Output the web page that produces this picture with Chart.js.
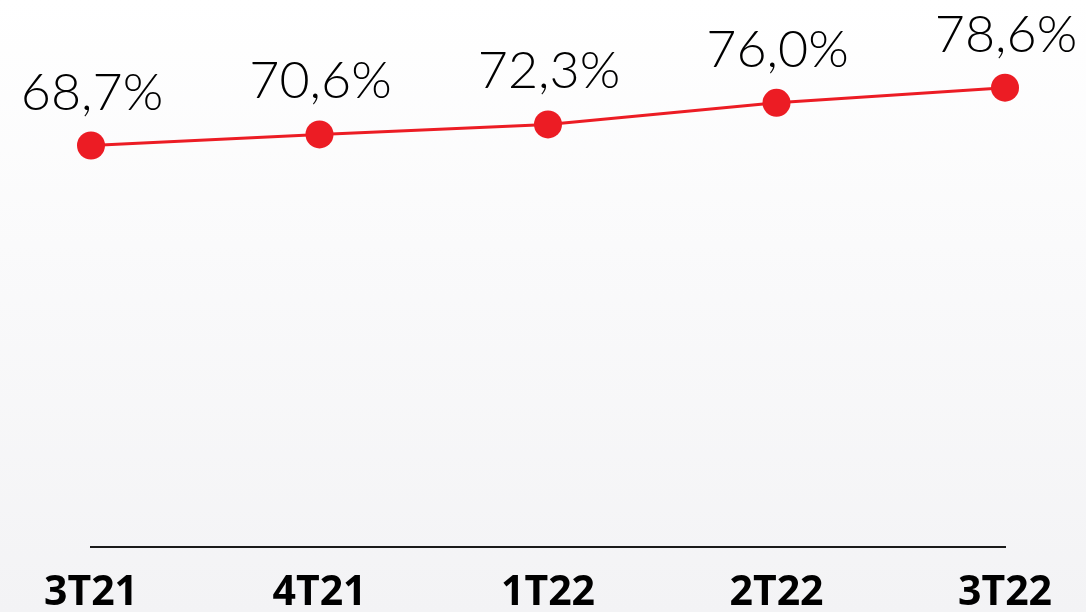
<!DOCTYPE html>
<html>
<head>
<meta charset="utf-8">
<script src="https://cdn.jsdelivr.net/npm/chart.js@4"></script>
<style>
  html, body { margin: 0; padding: 0; }
  body { width: 1086px; height: 612px; overflow: hidden;
         background: linear-gradient(to bottom, #ffffff 0%, #fafafb 40%, #f3f3f5 100%); }
  #wrap { position: relative; width: 1086px; height: 612px; }
</style>
</head>
<body>
<div id="wrap"><canvas id="lineChart"></canvas></div>
<script>
const quarters = ["3T21", "4T21", "1T22", "2T22", "3T22"];
const shareValues = [68.7, 70.6, 72.3, 76.0, 78.6];
const shareLabels = ["68,7%", "70,6%", "72,3%", "76,0%", "78,6%"];

// draws the percentage above each point
const valueLabels = {
    id: "valueLabels",
    afterDatasetsDraw(chart) {
        const ctx = chart.ctx;
        const points = chart.getDatasetMeta(0).data;
        ctx.save();
        ctx.font = "300 52px Lato";
        ctx.fillStyle = "#000";
        ctx.textAlign = "center";
        ctx.textBaseline = "alphabetic";
        points.forEach((pt, i) => {
            ctx.fillText(shareLabels[i], pt.x + 1, pt.y - 36);
        });
        ctx.restore();
    }
};

const ctx = document.getElementById("lineChart").getContext("2d");
new Chart(ctx, {
    type: "line",
    data: {
        labels: quarters,
        datasets: [{
            data: shareValues,
            borderColor: "#ec1c24",
            backgroundColor: "#ec1c24",
            borderWidth: 3,
            pointRadius: 14,
            pointHoverRadius: 14,
            pointBorderWidth: 0,
            tension: 0,
            clip: false
        }]
    },
    options: {
        responsive: true,
        maintainAspectRatio: false,
        animation: false,
        layout: { padding: { left: 91, right: 81, top: 21, bottom: -28 } },
        plugins: { legend: { display: false }, tooltip: { enabled: false } },
        scales: {
            x: {
                offset: false,
                grid: { display: false, drawTicks: false },
                border: { display: true, color: "#1a1a1a", width: 2 },
                ticks: {
                    color: "#000",
                    padding: 28,
                    maxRotation: 0,
                    font: { family: "'Open Sans'", size: 41, weight: "bold", lineHeight: 0.9 }
                }
            },
            y: {
                display: false,
                min: 0,
                max: 90
            }
        }
    },
    plugins: [valueLabels]
});
</script>
</body>
</html>
